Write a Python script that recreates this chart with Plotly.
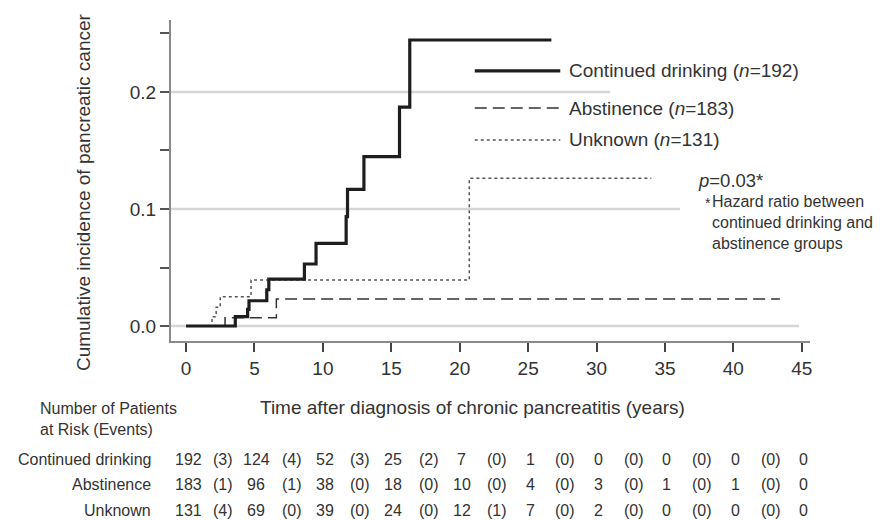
import plotly.graph_objects as go

# Cumulative incidence step curves (time in years, cumulative incidence)
drink_t = [0, 3.6, 4.5, 4.6, 5.9, 6.05, 8.65, 9.5, 11.7, 11.8, 13.0, 15.6, 16.35, 26.7]
drink_v = [0, 0.008, 0.0143, 0.0216, 0.031, 0.040, 0.053, 0.0707, 0.0934, 0.1168, 0.1447, 0.187, 0.2444, 0.2444]

abst_t = [0, 2.85, 6.6, 43.4]
abst_v = [0, 0.007, 0.023, 0.023]

unk_t = [0, 1.9, 2.2, 2.5, 4.75, 20.7, 34.0]
unk_v = [0, 0.008, 0.016, 0.025, 0.0393, 0.1262, 0.1262]

# Axis ticks
x_ticks = [0, 5, 10, 15, 20, 25, 30, 35, 40, 45]
y_ticks = [0, 0.05, 0.1, 0.15, 0.2, 0.25]
y_labels = ["0.0", "", "0.1", "", "0.2", ""]

# Reference lines at 0.0 / 0.1 / 0.2 and how far each runs along the time axis
grid_levels = [0.0, 0.1, 0.2]
grid_ends = [44.8, 36.1, 31.0]

# Legend entries
legend_names = ["Continued drinking", "Abstinence", "Unknown"]
legend_n = [192, 183, 131]

# Number at risk (events) table
risk_groups = ["Continued drinking", "Abstinence", "Unknown"]
at_risk = [
    [192, 124, 52, 25, 7, 1, 0, 0, 0, 0],
    [183, 96, 38, 18, 10, 4, 3, 1, 1, 0],
    [131, 69, 39, 24, 12, 7, 2, 0, 0, 0],
]
events = [
    [3, 4, 3, 2, 0, 0, 0, 0, 0],
    [1, 1, 0, 0, 0, 0, 0, 0, 0],
    [4, 0, 0, 0, 1, 0, 0, 0, 0],
]

FONT = "Liberation Sans, Arial, sans-serif"
TXT = "#333333"
styles = [
    dict(color="#1e1e1e", width=3.2, dash="solid"),
    dict(color="#333333", width=1.5, dash="12px,6px"),
    dict(color="#555555", width=1.5, dash="dot"),
]

fig = go.Figure()

# Grey reference lines
for lvl, end in zip(grid_levels, grid_ends):
    fig.add_shape(type="line", xref="x", yref="y", x0=-1.1, x1=end, y0=lvl, y1=lvl,
                  line=dict(color="#d6d6d6", width=2.5), layer="below")

series = [(unk_t, unk_v), (abst_t, abst_v), (drink_t, drink_v)]
order = [2, 1, 0]
for (t, v), k in zip(series, order):
    fig.add_trace(go.Scatter(x=t, y=v, mode="lines", line_shape="hv",
                             line=styles[k], showlegend=False, hoverinfo="skip"))

# Legend drawn inside the plot
leg_y = [0.218, 0.1863, 0.159]
for k, (name, n) in enumerate(zip(legend_names, legend_n)):
    fig.add_trace(go.Scatter(x=[21.1, 27.35], y=[leg_y[k], leg_y[k]], mode="lines",
                             line=styles[k], showlegend=False, hoverinfo="skip"))
    fig.add_annotation(x=27.85, y=leg_y[k], xref="x", yref="y", xanchor="left", yanchor="middle",
                       text=f"{name} (<i>n</i>={n})", showarrow=False,
                       font=dict(family=FONT, size=19, color=TXT))

# p-value note
fig.add_annotation(x=37.3, y=0.1245, xref="x", yref="y", xanchor="left", yanchor="middle",
                   text="<i>p</i>=0.03*", showarrow=False, font=dict(family=FONT, size=18.5, color=TXT))
fig.add_annotation(x=37.75, y=0.1055, xref="x", yref="y", xanchor="left", yanchor="middle",
                   text="*", showarrow=False, font=dict(family=FONT, size=14, color=TXT))
fig.add_annotation(x=38.3, y=0.0885, xref="x", yref="y", xanchor="left", yanchor="middle", align="left",
                   text="Hazard ratio between<br>continued drinking and<br>abstinence groups",
                   showarrow=False, font=dict(family=FONT, size=16, color=TXT))

# Axis titles
fig.add_annotation(x=-0.1377, y=0.464, xref="paper", yref="paper", textangle=-90,
                   xanchor="center", yanchor="middle",
                   text="Cumulative incidence of pancreatic cancer", showarrow=False,
                   font=dict(family=FONT, size=19, color=TXT))
fig.add_annotation(x=0.4726, y=-0.2087, xref="paper", yref="paper",
                   xanchor="center", yanchor="middle",
                   text="Time after diagnosis of chronic pancreatitis (years)", showarrow=False,
                   font=dict(family=FONT, size=19, color=TXT))

# Risk table
fig.add_annotation(x=-0.208, y=-0.243, xref="paper", yref="paper", xanchor="left", yanchor="middle",
                   align="left", text="Number of Patients<br>at Risk (Events)", showarrow=False,
                   font=dict(family=FONT, size=16, color=TXT))
row_y = [-0.3707, -0.4455, -0.5265]
for r, grp in enumerate(risk_groups):
    fig.add_annotation(x=-0.028, y=row_y[r], xref="paper", yref="paper", xanchor="right",
                       yanchor="middle", text=grp, showarrow=False,
                       font=dict(family=FONT, size=16, color=TXT))
    for i, n in enumerate(at_risk[r]):
        fig.add_annotation(x=x_ticks[i], y=row_y[r], xref="x", yref="paper", xshift=2,
                           yanchor="middle", text=str(n), showarrow=False,
                           font=dict(family=FONT, size=16, color=TXT))
    for i, e in enumerate(events[r]):
        fig.add_annotation(x=(x_ticks[i] + x_ticks[i + 1]) / 2, y=row_y[r], xref="x", yref="paper",
                           xshift=3, yanchor="middle", text=f"({e})", showarrow=False,
                           font=dict(family=FONT, size=16, color=TXT))

fig.update_xaxes(range=[-1.1, 45.6], tickvals=x_ticks, ticks="outside", ticklen=9, tickwidth=1.5,
                 tickcolor="#444", showline=True, linecolor="#8a8a8a", linewidth=2,
                 showgrid=False, zeroline=False,
                 tickfont=dict(family=FONT, size=19, color=TXT))
fig.update_yaxes(range=[-0.0128, 0.2615], tickvals=y_ticks, ticktext=y_labels, ticks="outside",
                 ticklen=9, tickwidth=1.5, tickcolor="#555", showline=True, linecolor="#8a8a8a",
                 linewidth=2, showgrid=False, zeroline=False,
                 tickfont=dict(family=FONT, size=19, color=TXT))

fig.update_layout(width=882, height=520, paper_bgcolor="white", plot_bgcolor="white",
                  margin=dict(l=171, r=72, t=20, b=179), showlegend=False)

fig.write_html("out.html")
